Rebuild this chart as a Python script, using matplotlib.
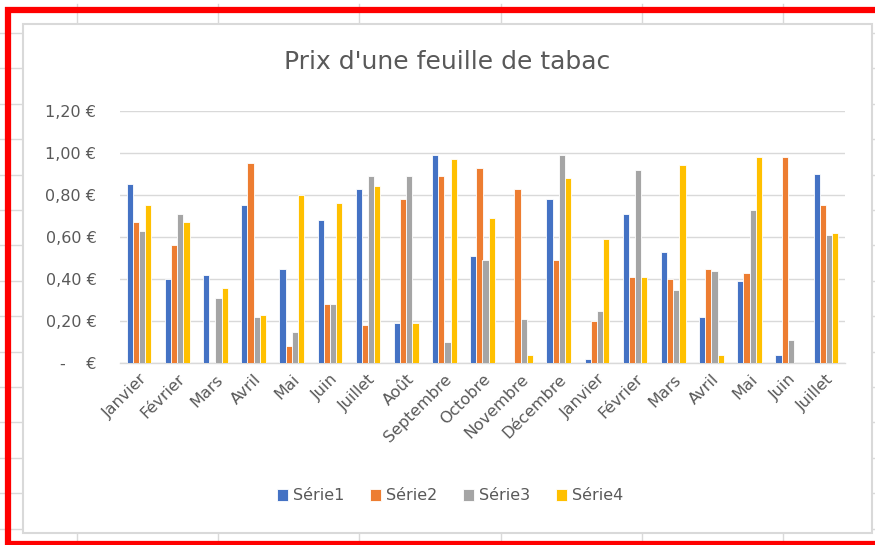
import matplotlib
matplotlib.use("Agg")
import matplotlib.pyplot as plt
import numpy as np
from matplotlib.patches import Rectangle
from matplotlib.lines import Line2D

categories = ["Janvier", "Février", "Mars", "Avril", "Mai", "Juin", "Juillet", "Août",
              "Septembre", "Octobre", "Novembre", "Décembre", "Janvier", "Février",
              "Mars", "Avril", "Mai", "Juin", "Juillet"]
serie1 = [0.85, 0.40, 0.42, 0.75, 0.45, 0.68, 0.83, 0.19, 0.99, 0.51, 0.00, 0.78,
          0.02, 0.71, 0.53, 0.22, 0.39, 0.04, 0.90]
serie2 = [0.67, 0.56, 0.00, 0.95, 0.08, 0.28, 0.18, 0.78, 0.89, 0.93, 0.83, 0.49,
          0.20, 0.41, 0.40, 0.45, 0.43, 0.98, 0.75]
serie3 = [0.63, 0.71, 0.31, 0.22, 0.15, 0.28, 0.89, 0.89, 0.10, 0.49, 0.21, 0.99,
          0.25, 0.92, 0.35, 0.44, 0.73, 0.11, 0.61]
serie4 = [0.75, 0.67, 0.36, 0.23, 0.80, 0.76, 0.84, 0.19, 0.97, 0.69, 0.04, 0.88,
          0.59, 0.41, 0.94, 0.04, 0.98, 0.00, 0.62]
series_names = ["Série1", "Série2", "Série3", "Série4"]
yticks = [0.0, 0.2, 0.4, 0.6, 0.8, 1.0, 1.2]
ytick_labels = ["-    €", "0,20 €", "0,40 €", "0,60 €", "0,80 €", "1,00 €", "1,20 €"]

colors = ["#4472C4", "#ED7D31", "#A5A5A5", "#FFC000"]
TXT = "#595959"
GRID = "#D9D9D9"

W, H = 875, 545
fig = plt.figure(figsize=(W / 100, H / 100), dpi=100)
fig.patch.set_facecolor("white")


def fx(x):
    return x / W


def fy(y):
    return 1 - y / H


# spreadsheet grid in the background
for k in range(16):
    y = 33 + 35.4 * k
    fig.add_artist(Line2D([0, 1], [fy(y), fy(y)], color=GRID, lw=1.0,
                          transform=fig.transFigure, zorder=-20))
for k in range(6):
    x = 77 + 141.2 * k
    fig.add_artist(Line2D([fx(x), fx(x)], [0, fy(4)], color=GRID, lw=1.0,
                          transform=fig.transFigure, zorder=-20))

# chart area box
fig.add_artist(Rectangle((fx(23), fy(533)), fx(872) - fx(23), fy(24) - fy(533),
                         transform=fig.transFigure, facecolor="white",
                         edgecolor=GRID, lw=1.5, zorder=-10))

# red frame (top, left, bottom)
RED = "#FF0000"
fig.add_artist(Line2D([fx(5), 1.0], [fy(10), fy(10)], color=RED, lw=4.5,
                      transform=fig.transFigure, zorder=5, solid_capstyle="butt"))
fig.add_artist(Line2D([fx(8), fx(8)], [fy(7), 0.0], color=RED, lw=4.5,
                      transform=fig.transFigure, zorder=5, solid_capstyle="butt"))
fig.add_artist(Line2D([fx(5), 1.0], [fy(544), fy(544)], color=RED, lw=4.5,
                      transform=fig.transFigure, zorder=5, solid_capstyle="butt"))

ax = fig.add_axes([fx(120), fy(363.3), fx(845) - fx(120), fy(110.7) - fy(363.3)])
ax.set_facecolor("none")

x = np.arange(len(categories))
bw = 0.162
data = [serie1, serie2, serie3, serie4]
for i, (vals, name, c) in enumerate(zip(data, series_names, colors)):
    ax.bar(x + (i - 1.5) * bw, vals, width=bw, color=c, edgecolor="white",
           linewidth=0.6, label=name, zorder=3)

ax.set_xlim(-0.5, len(categories) - 0.5)
ax.set_ylim(0, 1.2)
ax.set_yticks(yticks)
ax.set_yticklabels(ytick_labels)
ax.yaxis.grid(True, color=GRID, lw=1.0, zorder=0)
ax.set_axisbelow(True)
for s in ["top", "right", "left"]:
    ax.spines[s].set_visible(False)
ax.spines["bottom"].set_color(GRID)
ax.spines["bottom"].set_linewidth(1.0)
ax.tick_params(axis="both", length=0, colors=TXT, labelsize=11.5)
ax.tick_params(axis="y", pad=17)
ax.set_xticks(x)
ax.set_xticklabels(categories, rotation=45, ha="right", va="top",
                   rotation_mode="anchor")
ax.tick_params(axis="x", pad=6)

fig.text(fx(447), fy(62), "Prix d'une feuille de tabac", ha="center",
         va="center", fontsize=18, color=TXT)

leg = fig.legend(loc="center", bbox_to_anchor=(fx(450), fy(496)), ncol=4,
                 frameon=False, fontsize=11.5, handlelength=0.7,
                 handleheight=0.7, handletextpad=0.3, columnspacing=1.6,
                 labelcolor=TXT)

fig.savefig("out.png", dpi=100)
